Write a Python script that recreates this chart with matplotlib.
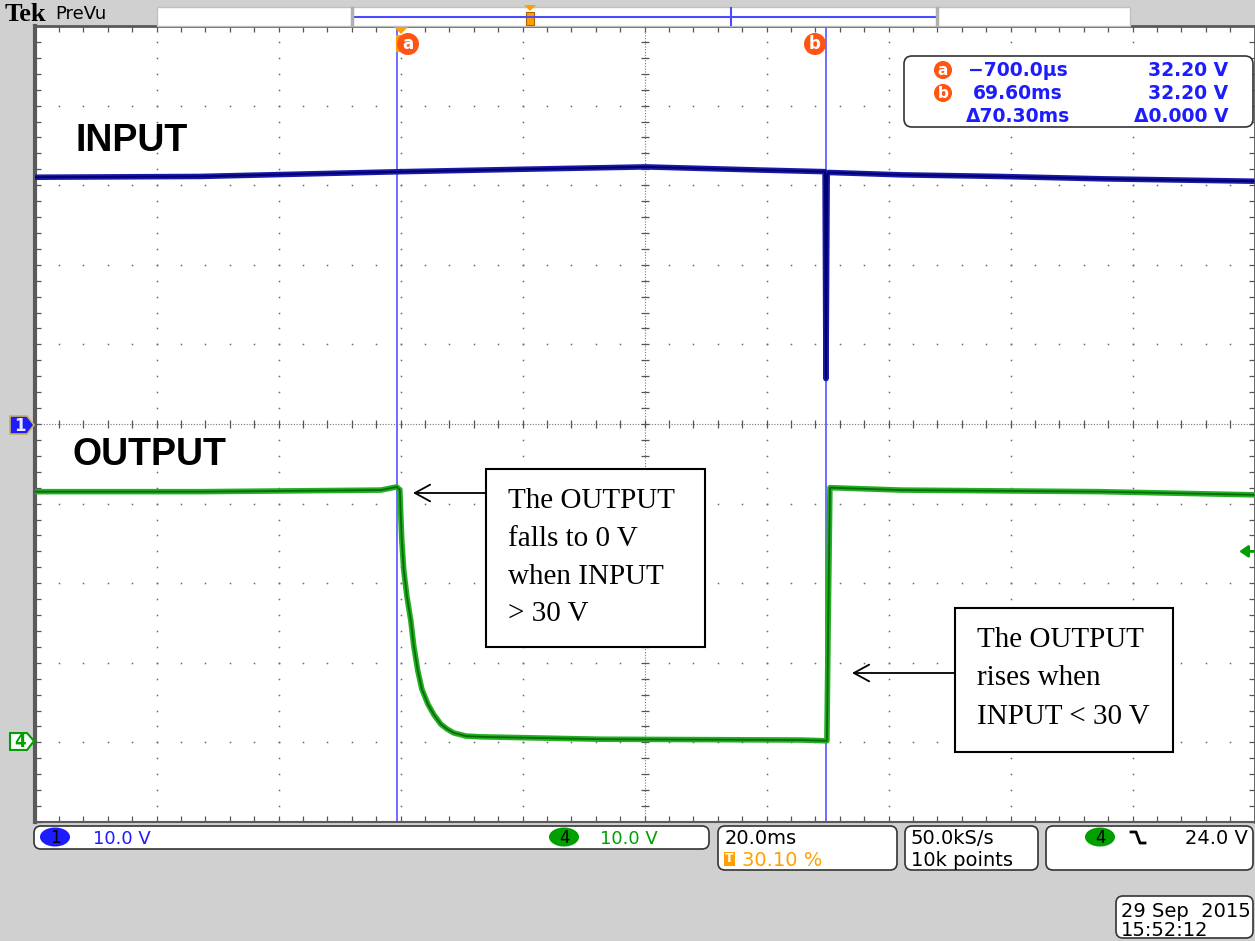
import numpy as np
import matplotlib.pyplot as plt
from matplotlib.patches import FancyBboxPatch, Rectangle, Polygon, Ellipse

W, H = 1255, 941

# waveform values (time in ms, volts)
input_t = [-60.2, -33.0, -16.5, 0.0, 19.5, 40.0, 59.0, 69.4, 69.55, 69.75, 70.0, 82.0, 98.0, 115.0, 139.8]
input_v = [31.0, 31.1, 31.4, 31.7, 32.0, 32.3, 31.9, 31.7, 5.7, 31.3, 31.6, 31.3, 31.1, 30.8, 30.5]

output_t = [-60.2, -32.9, -3.4, -0.8, -0.3, -0.15, 0.02, 0.34, 0.84, 1.49, 1.98, 2.64, 3.3, 4.3,
            5.26, 6.4, 7.4, 8.5, 10.5, 13.0, 32.6, 65.4, 69.7, 69.9, 70.2, 81.8, 98.2, 114.6, 139.8]
output_v = [31.5, 31.5, 31.7, 32.1, 31.7, 28.5, 25.3, 21.6, 18.4, 15.3, 12.1, 9.0, 6.7, 4.8,
            3.5, 2.3, 1.7, 1.2, 0.8, 0.7, 0.4, 0.3, 0.2, 14.0, 32.0, 31.7, 31.6, 31.5, 31.1]

cursor_t = [-0.7, 69.6]
cursor_names = ['a', 'b']
cursor_time_txt = ['\u2212700.0\u00b5s', '69.60ms', '\u039470.30ms']
cursor_volt_txt = ['32.20 V', '32.20 V', '\u03940.000 V']

volts_per_div = 10.0
ch1_offset = 0.0
ch4_offset = -4.0
trigger_level = 24.0
t_left, ms_per_div = -60.2, 20.0

blue = '#1c1cff'
green = '#00a000'
orange = '#ffa000'
cur_col = '#ff5412'

fig = plt.figure(figsize=(12.55, 9.41), dpi=100, facecolor='#d0d0d0')
ax = fig.add_axes([34.5 / W, 1 - 822 / H, 1220 / W, 796 / H])
ax.set_facecolor('white')
ax.set_xlim(t_left, t_left + 10 * ms_per_div)
ax.set_ylim(-5, 5)

# graticule dots
ys = np.arange(-5, 5.001, 0.2)
xs = np.arange(t_left, t_left + 200.01, 4.0)
for k in range(1, 10):
    xg = t_left + k * ms_per_div
    if k == 5:
        continue
    ax.plot(np.full_like(ys, xg), ys, ls='none', marker='s', ms=1.1, mew=0, color='#666666')
for k in range(-4, 5):
    if k == 0:
        continue
    ax.plot(xs, np.full_like(xs, k), ls='none', marker='s', ms=1.1, mew=0, color='#666666')
xc = t_left + 5 * ms_per_div
ax.axvline(xc, ls=(0, (1, 1.5)), lw=0.8, color='#777777')
ax.axhline(0, ls=(0, (1, 1.5)), lw=0.8, color='#777777')
ax.plot(np.full_like(ys, xc), ys, ls='none', marker='_', ms=6, mew=0.9, color='#555555')
ax.plot(xs, np.zeros_like(xs), ls='none', marker='|', ms=6, mew=0.9, color='#555555')

ax.set_xticks(xs)
ax.set_yticks(ys)
ax.tick_params(direction='in', length=4, width=0.9, color='#555555', top=True, right=True,
               labelbottom=False, labelleft=False)
for side, lw in [('left', 3), ('top', 2), ('bottom', 1.5), ('right', 2)]:
    ax.spines[side].set_color('#5a5a5a')
    ax.spines[side].set_linewidth(lw)

# cursors
for ct in cursor_t:
    ax.axvline(ct, color='#4646ff', lw=1.1, zorder=2)

# traces
y1 = np.array(input_v) / volts_per_div + ch1_offset
y4 = np.array(output_v) / volts_per_div + ch4_offset
ax.plot(input_t, y1, color='#1a1aa8', lw=4, zorder=3, solid_capstyle='butt')
ax.plot(input_t, y1, color='#000070', lw=1.4, zorder=4, solid_capstyle='butt')
ax.plot(output_t, y4, color='#22b022', lw=4, zorder=3, solid_capstyle='butt')
ax.plot(output_t, y4, color='#0a6a0a', lw=1.3, zorder=4, solid_capstyle='butt')

# trigger level arrow
trig_y = trigger_level / volts_per_div + ch4_offset
ax.annotate('', xy=(137.3, trig_y), xytext=(139.7, trig_y), annotation_clip=False,
            arrowprops=dict(arrowstyle='-|>,head_length=0.5,head_width=0.35', color=green, lw=2,
                            shrinkA=0, shrinkB=0))

# overlay in pixel coordinates
ov = fig.add_axes([0, 0, 1, 1])
ov.set_xlim(0, W)
ov.set_ylim(H, 0)
ov.axis('off')

# top strip
ov.text(5, 21, 'Tek', family='Liberation Serif', fontweight='bold', fontsize=19, va='baseline')
ov.text(55, 19, 'PreVu', family='DejaVu Sans', fontsize=13, va='baseline')
ov.add_patch(Rectangle((157, 7), 973, 19, fc='white', ec='#c0c0c0', lw=1))
ov.plot([354, 935], [17, 17], color='#4a4aff', lw=1.5)
ov.plot([731, 731], [8, 25], color='#4a4aff', lw=1.5)
for bx in (352, 937):
    ov.plot([bx, bx], [8, 25], color='#b0b0b0', lw=2.5)
ov.add_patch(Rectangle((526, 12), 8, 13, fc=orange, ec='#b06000', lw=0.8))
ov.add_patch(Polygon([(524, 5), (536, 5), (530, 11)], fc=orange, ec='none'))

# cursor tags
ov.add_patch(Polygon([(394, 27), (408, 27), (401, 34)], fc=orange, ec='none'))
ov.add_patch(Rectangle((396, 35), 8, 17, fc=orange, ec='none'))
for name, xp in zip(cursor_names, [408, 815]):
    ov.text(xp, 44, name, ha='center', va='center', color='white', fontsize=12, fontweight='bold',
            bbox=dict(boxstyle='circle,pad=0.12', fc=cur_col, ec='none'))

# cursor readout
ov.add_patch(FancyBboxPatch((904, 56), 349, 71, boxstyle='round,pad=0,rounding_size=8',
                            fc='white', ec='#333333', lw=1.2))
for i, yy in enumerate([70, 93, 116]):
    if i < 2:
        ov.text(943, yy, cursor_names[i], ha='center', va='center', color='white', fontsize=11,
                fontweight='bold', bbox=dict(boxstyle='circle,pad=0.1', fc=cur_col, ec='none'))
    ov.text(1018, yy, cursor_time_txt[i], ha='center', va='center', color=blue, fontsize=13.5,
            fontweight='bold')
    ov.text(1228, yy, cursor_volt_txt[i], ha='right', va='center', color=blue, fontsize=13.5,
            fontweight='bold')

# trace labels
ov.text(75, 151, 'INPUT', family='Liberation Sans', fontweight='bold', fontsize=27, va='baseline')
ov.text(73, 465, 'OUTPUT', family='Liberation Sans', fontweight='bold', fontsize=27, va='baseline')

# channel markers
ov.add_patch(Polygon([(10, 416), (27, 416), (34, 425), (27, 434), (10, 434)], fc=blue, ec='#c8b060', lw=1.2))
ov.text(20, 426, '1', ha='center', va='center', color='#e8e8ff', fontsize=12, fontweight='bold')
ov.add_patch(Polygon([(10, 733), (27, 733), (34, 741), (27, 750), (10, 750)], fc='white', ec=green, lw=1.5))
ov.text(20, 742, '4', ha='center', va='center', color=green, fontsize=12, fontweight='bold')

# annotation boxes
serif = 'Liberation Serif'
ov.add_patch(Rectangle((486, 469), 219, 178, fc='white', ec='black', lw=1.5, zorder=5))
for line, base in zip(['The OUTPUT', 'falls to 0 V', 'when INPUT', '> 30 V'], [508, 546, 584, 621]):
    ov.text(508, base, line, family=serif, fontsize=21, va='baseline', zorder=6)
ov.add_patch(Rectangle((955, 608), 218, 144, fc='white', ec='black', lw=1.5, zorder=5))
for line, base in zip(['The OUTPUT', 'rises when', 'INPUT < 30 V'], [647, 685, 724]):
    ov.text(977, base, line, family=serif, fontsize=21, va='baseline', zorder=6)
arrow_kw = dict(arrowstyle='->,head_length=1.1,head_width=0.6', lw=1.3, color='black', shrinkA=0, shrinkB=0)
ov.annotate('', xy=(413, 493), xytext=(486, 493), arrowprops=arrow_kw)
ov.annotate('', xy=(852, 673), xytext=(955, 673), arrowprops=arrow_kw)

# bottom status boxes
def status_box(x, y, w, h):
    ov.add_patch(FancyBboxPatch((x, y), w, h, boxstyle='round,pad=0,rounding_size=7',
                                fc='white', ec='#333333', lw=1.2))

status_box(34, 826, 675, 23)
ov.add_patch(Ellipse((55, 837), 30, 19, fc=blue, ec='none'))
ov.text(55, 838, '1', ha='center', va='center', fontsize=12)
ov.text(93, 844, '10.0 V', color=blue, fontsize=13, va='baseline')
ov.add_patch(Ellipse((564, 837), 30, 19, fc=green, ec='none'))
ov.text(564, 838, '4', ha='center', va='center', fontsize=12)
ov.text(600, 844, '10.0 V', color=green, fontsize=13, va='baseline')

status_box(718, 826, 179, 44)
ov.text(725, 844, '20.0ms', fontsize=14, va='baseline')
ov.add_patch(Rectangle((724, 852), 11, 14, fc=orange, ec='none'))
ov.text(729.5, 859, 'T', color='white', fontsize=9, fontweight='bold', ha='center', va='center')
ov.text(742, 866, '30.10 %', color=orange, fontsize=14, va='baseline')

status_box(905, 826, 133, 44)
ov.text(911, 844, '50.0kS/s', fontsize=14, va='baseline')
ov.text(911, 866, '10k points', fontsize=14, va='baseline')

status_box(1046, 826, 207, 44)
ov.add_patch(Ellipse((1100, 837), 30, 19, fc=green, ec='none'))
ov.text(1100, 838, '4', ha='center', va='center', fontsize=12)
ov.plot([1131, 1136, 1140, 1145], [832, 832, 843, 843], color='black', lw=2)
ov.text(1248, 844, '24.0 V', fontsize=14, va='baseline', ha='right')

status_box(1116, 896, 137, 42)
ov.text(1121, 917, '29 Sep  2015', fontsize=14, va='baseline')
ov.text(1121, 936, '15:52:12', fontsize=14, va='baseline')

fig.savefig('out.png', dpi=100, facecolor=fig.get_facecolor())
